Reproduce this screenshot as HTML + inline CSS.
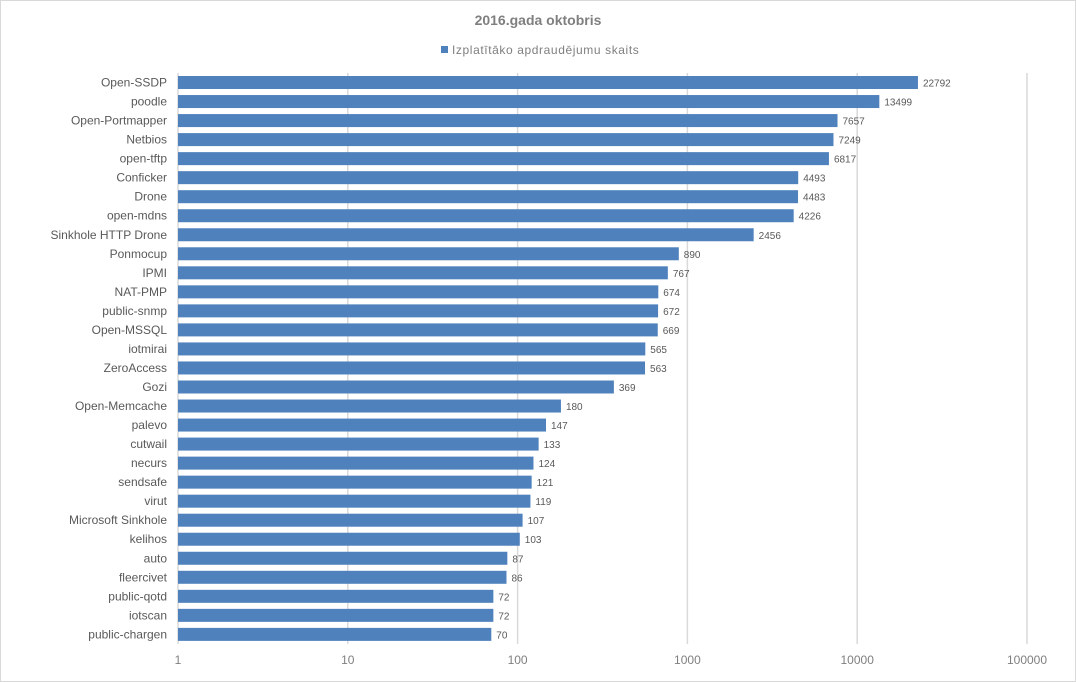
<!DOCTYPE html>
<html><head><meta charset="utf-8"><style>
html,body{margin:0;padding:0;background:#fff;}
svg{display:block;font-family:"Liberation Sans",Arial,sans-serif;}
</style></head><body>
<svg id="chart" width="1076" height="682" viewBox="0 0 1076 682">
<rect x="0.5" y="0.5" width="1075" height="681" fill="#fff" stroke="#d9d9d9"/>
<text x="538" y="25" text-anchor="middle" font-size="14" font-weight="bold" fill="#7f7f7f">2016.gada  oktobris</text>
<g>
<rect x="441" y="46" width="7" height="7" fill="#4f81bd"/>
<text x="452" y="54" font-size="12" fill="#7f7f7f" letter-spacing="0.6">Izplatītāko apdraudējumu skaits</text>
</g>
<g id="grid"></g><g id="bars"></g><g id="labels"></g>
</svg>
<script>
const categories=["Open-SSDP","poodle","Open-Portmapper","Netbios","open-tftp","Conficker","Drone","open-mdns","Sinkhole HTTP Drone","Ponmocup","IPMI","NAT-PMP","public-snmp","Open-MSSQL","iotmirai","ZeroAccess","Gozi","Open-Memcache","palevo","cutwail","necurs","sendsafe","virut","Microsoft Sinkhole","kelihos","auto","fleercivet","public-qotd","iotscan","public-chargen"];
const values=[22792,13499,7657,7249,6817,4493,4483,4226,2456,890,767,674,672,669,565,563,369,180,147,133,124,121,119,107,103,87,86,72,72,70];
const ticks=[1,10,100,1000,10000,100000];
const NS="http://www.w3.org/2000/svg";
const x0=178,decade=169.8,plotTop=73,step=19.03,barH=13;
const xs=v=>x0+Math.log10(v)*decade;
const yc=i=>plotTop+step*(i+0.5);
function mk(t,a,p){const e=document.createElementNS(NS,t);for(const k in a)e.setAttribute(k,a[k]);p.appendChild(e);return e;}
const g=document.getElementById('grid'),b=document.getElementById('bars'),l=document.getElementById('labels');
const plotBottom=plotTop+step*categories.length;
ticks.forEach(t=>{
 const ln=mk('line',{x1:xs(t),x2:xs(t),y1:plotTop,y2:plotBottom,stroke:'#d9d9d9','stroke-width':1.5},g);
 
 
 const tx=mk('text',{x:xs(t),y:plotBottom+20,'text-anchor':'middle','font-size':12,fill:'#7f7f7f'},g);
 tx.textContent=t;
 
 
});
categories.forEach((c,i)=>{
 const y=yc(i);
 const r=mk('rect',{x:x0,y:y-barH/2,width:xs(values[i])-x0,height:barH,fill:'#4f81bd'},b);
 
 
 const ct=mk('text',{x:167,y:y+4,'text-anchor':'end','font-size':12,fill:'#595959'},l);
 ct.textContent=c;
 
 
 const vt=mk('text',{x:xs(values[i])+5,y:y+4,'font-size':10,fill:'#595959'},l);
 vt.textContent=values[i];
 
 
});
</script>
</body></html>
